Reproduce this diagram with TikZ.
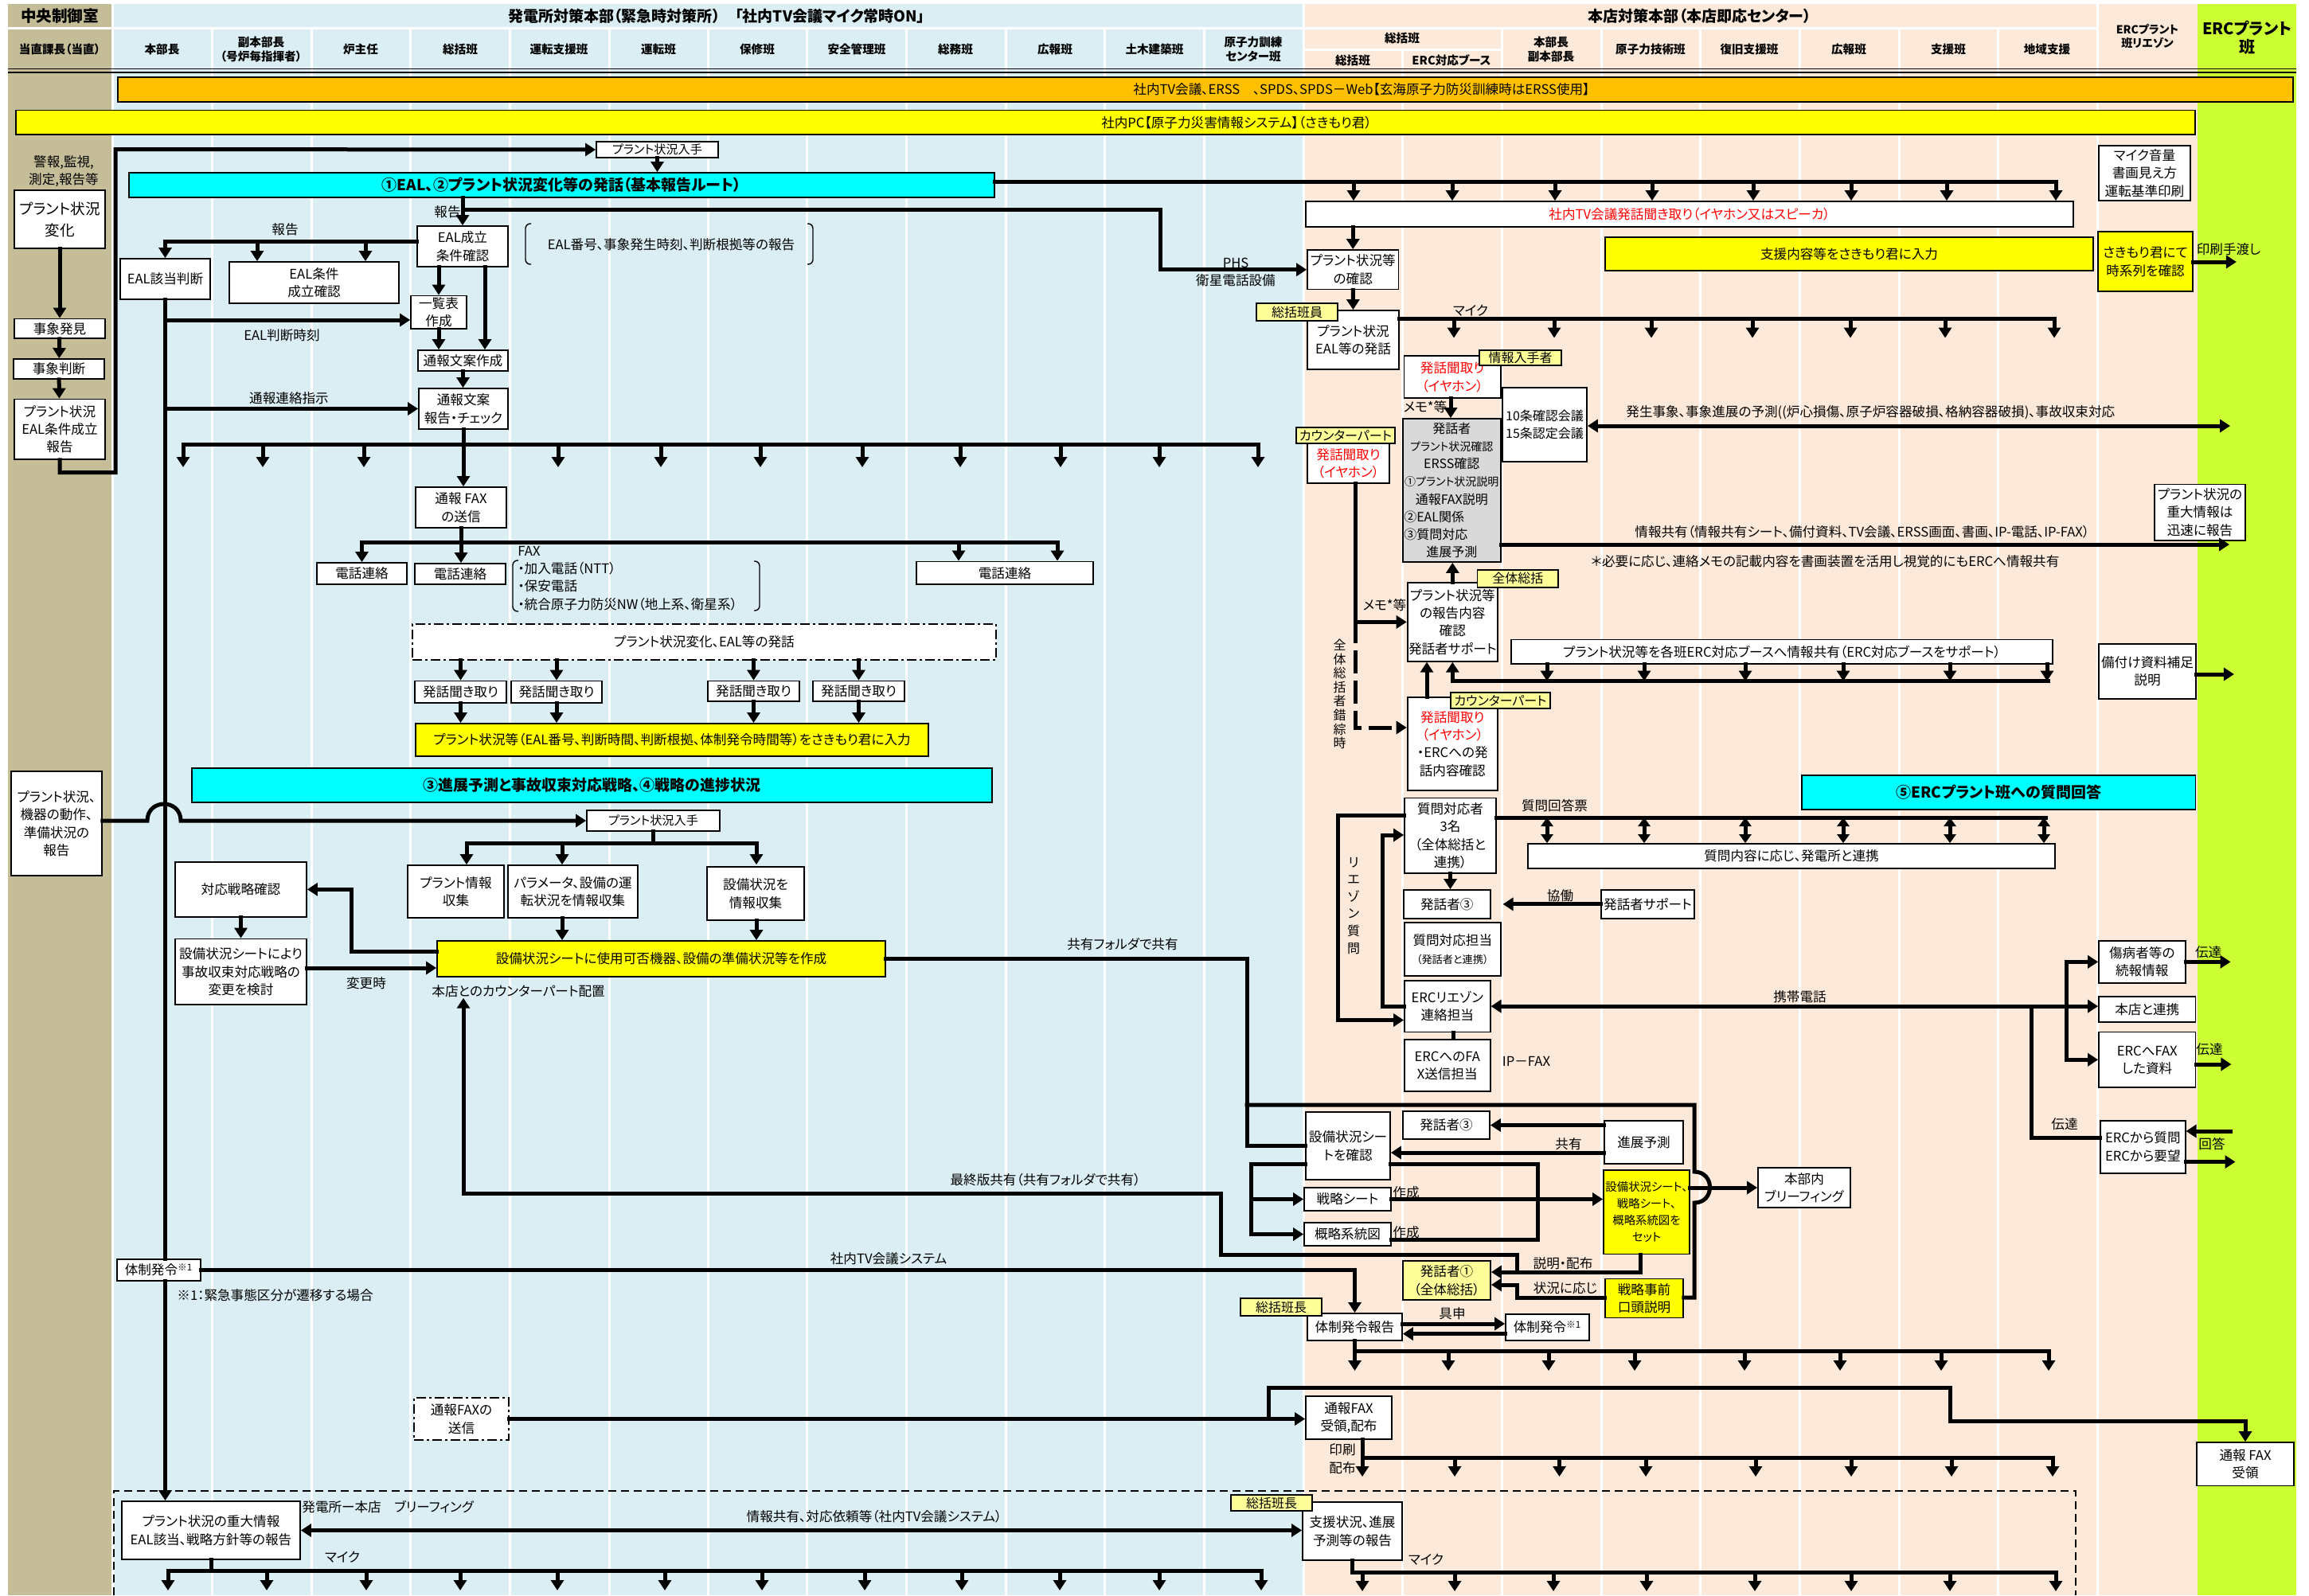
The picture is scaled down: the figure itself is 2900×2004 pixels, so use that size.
\documentclass[tikz,border=0pt]{standalone}
\usepackage{fontspec}
\setmainfont{Noto Sans CJK JP}[RawFeature=+palt]
\usepackage{xcolor}
\usepackage{tikz}
\usetikzlibrary{arrows.meta, positioning}
\definecolor{ctrlbg}{HTML}{C4BD97}
\definecolor{plantbg}{HTML}{DAEEF3}
\definecolor{hqbg}{HTML}{FDE9D9}
\definecolor{ercbg}{HTML}{CCFF33}
\definecolor{routebg}{HTML}{00FFFF}
\definecolor{sysbg}{HTML}{FFC000}
\definecolor{pcbg}{HTML}{FFFF00}
\definecolor{tagbg}{HTML}{FFFF99}
\definecolor{memobg}{HTML}{D9D9D9}
\newcommand{\boxfont}{\fontsize{8.3}{11.2}\selectfont}
\newcommand{\midfont}{\fontsize{7.6}{10}\selectfont}
\newcommand{\smallerfont}{\fontsize{6.6}{8.5}\selectfont}
\newcommand{\tagfont}{\fontsize{8}{10}\selectfont}
\newcommand{\headfont}{\fontsize{7.3}{9}\selectfont\bfseries}
\newcommand{\titlefont}{\fontsize{9.5}{11}\selectfont\bfseries}
\newcommand{\routefont}{\fontsize{9.5}{11}\selectfont\bfseries}
\newcommand{\lnst}{\rule[-0.12em]{0pt}{1em}}

\begin{document}
\begin{tikzpicture}[x=0.5pt, y=-0.5pt, >=Latex]
    \tikzset{spanbox/.style n args={4}{minimum width={(#3-#1)*0.5pt}, minimum height={(#4-#2)*0.5pt}, at={({(#1+#3)/2},{(#2+#4)/2})}}}
    \tikzstyle{bx} = [rectangle, draw=black, fill=white, line width=0.9pt, inner sep=0pt, align=center, font=\boxfont]
    \tikzstyle{ylw} = [bx, fill=pcbg]
    \tikzstyle{tag} = [bx, fill=tagbg, font=\tagfont]
    \tikzstyle{routebar} = [bx, fill=routebg, font=\routefont]
    \tikzstyle{chainline} = [dash pattern=on 6pt off 2pt on 1.5pt off 2pt]
    \tikzstyle{lbl} = [inner sep=0pt, align=center, font=\boxfont]
    \tikzstyle{hdr} = [inner sep=0pt, align=center, font=\headfont]
    \tikzstyle{wire} = [line width=2.5pt, line cap=rect]
    \tikzstyle{flow} = [wire, -{Triangle[width=8pt,length=6.5pt]}]
    \tikzstyle{twoway} = [wire, {Triangle[width=8pt,length=6.5pt]}-{Triangle[width=8pt,length=6.5pt]}]
    \tikzstyle{shorttwoway} = [wire, {Triangle[width=7.5pt,length=5.5pt]}-{Triangle[width=7.5pt,length=5.5pt]}]
    \tikzstyle{lane} = [white, line width=1.5pt]

    \useasboundingbox (0,0) rectangle (2900,2004);
    % lanes
    \fill[white] (0,0) rectangle (2900,2004);
    \fill[ctrlbg] (10,5) rectangle (140,2004);
    \fill[plantbg] (141,5) rectangle (1637,2004);
    \fill[hqbg] (1637,5) rectangle (2760,2004);
    \fill[ercbg] (2760,5) rectangle (2884,2004);
    \draw[lane] (10,35.5) -- (2634,35.5);
    \draw[lane] (1637,62) -- (1886,62);
    \foreach \x in {266,391,515,640,765,889,1013,1138,1263,1387,1512,1886,2011,2135,2260,2385,2509}
        \draw[lane] (\x,37) -- (\x,2004);
    \draw[lane] (1761,62) -- (1761,2004);
    \foreach \x in {141,1637,2634}
        \draw[lane] (\x,5) -- (\x,2004);
    \draw[line width=0.9pt] (10,86.5) -- (2884,86.5) (10,91) -- (2884,91);
    \draw[dashed, line width=0.8pt, dash pattern=on 5pt off 3pt] (143,2004) -- (143,1873) -- (2607,1873) -- (2607,2004);

    % headers
    \node[font=\fontsize{9.8}{11}\selectfont\bfseries, inner sep=0pt] (hctrl) at (75,20) {\lnst 中央制御室};
    \node[font=\titlefont, inner sep=0pt] (hplant) at (900,20) {\lnst 発電所対策本部（緊急時対策所）　「社内TV会議マイク常時ON」};
    \node[font=\titlefont, inner sep=0pt] (hhq) at (2135,20) {\lnst 本店対策本部（本店即応センター）};
    \node[hdr] (hduty) at (75,62) {\lnst 当直課長（当直）};
    \foreach \x/\t [count=\i] in {203.5/本部長, 453/炉主任, 578/総括班, 702/運転支援班, 827/運転班, 951/保修班, 1076/安全管理班, 1200/総務班, 1325/広報班, 1450/土木建築班}
        \node[hdr] (hp\i) at (\x,62) {\lnst\t};
    \node[hdr] (hsub) at (328,62) {\lnst 副本部長\\\lnst（号炉毎指揮者）};
    \node[hdr] (htrain) at (1574,62) {\lnst 原子力訓練\\\lnst センター班};
    \node[hdr] (hgen) at (1761,48) {\lnst 総括班};
    \node[hdr] (hgen1) at (1699,76) {\lnst 総括班};
    \node[hdr] (hgen2) at (1823,76) {\lnst ERC対応ブース};
    \node[hdr] (hchief) at (1948,62) {\lnst 本部長\\\lnst 副本部長};
    \foreach \x/\t [count=\i] in {2073/原子力技術班, 2197/復旧支援班, 2322/広報班, 2447/支援班, 2571/地域支援}
        \node[hdr] (hh\i) at (\x,62) {\lnst\t};
    \node[hdr, font=\fontsize{7}{8.5}\selectfont\bfseries] (hliaison) at (2697,46) {\lnst ERCプラント\\\lnst 班リエゾン};
    \node[hdr, font=\fontsize{10}{11.5}\selectfont\bfseries] (herc) at (2822,47) {\lnst ERCプラント\\\lnst 班};

    \node[bx, fill=sysbg, spanbox={148}{97}{2880}{128}] (tvsys) {};
    \node[lbl] (tvsystxt) at (1710,112.5) {\lnst 社内TV会議、ERSS　、SPDS、SPDS－Web【玄海原子力防災訓練時はERSS使用】};
    \node[bx, fill=pcbg, spanbox={20}{138.5}{2757}{169}] (pcsys) {};
    \node[lbl] (pcsystxt) at (1553,154) {\lnst 社内PC【原子力災害情報システム】（さきもり君）};

    % control room
    \node[lbl] (alarm) at (80,215) {\lnst 警報,監視,\\\lnst 測定,報告等};
    \node[bx, font=\fontsize{9.3}{13.5}\selectfont, spanbox={18}{239}{132}{312}] (chg) {\lnst プラント状況\\\lnst 変化};
    \node[bx, spanbox={18}{400.5}{132}{425}] (found) {\lnst 事象発見};
    \node[bx, spanbox={17}{451}{131}{476}] (judge) {\lnst 事象判断};
    \node[bx, spanbox={18}{501.5}{132}{577}] (ealrep) {\lnst プラント状況\\\lnst EAL条件成立\\\lnst 報告};
    \node[bx, spanbox={14}{969}{128}{1100}] (plantrep) {\lnst プラント状況、\\\lnst 機器の動作、\\\lnst 準備状況の\\\lnst 報告};

    % power station
    \node[bx, font=\midfont, spanbox={749}{178}{902}{198}] (get1) {\lnst プラント状況入手};
    \node[routebar, spanbox={162}{217}{1249}{248}] (route1) {\lnst ①EAL、②プラント状況変化等の発話（基本報告ルート）};
    \node[bx, spanbox={524}{284}{638}{335}] (ealok) {\lnst EAL成立\\\lnst 条件確認};
    \node[lbl] (ealnote) at (843,307) {\lnst EAL番号、事象発生時刻、判断根拠等の報告};
    \node[bx, spanbox={151}{325}{264}{376}] (ealjudge) {\lnst EAL該当判断};
    \node[bx, spanbox={288}{329}{501}{381}] (ealconf) {\lnst EAL条件\\\lnst 成立確認};
    \node[bx, spanbox={516}{371.5}{586}{413}] (ichiran) {\lnst 一覧表\\\lnst 作成};
    \node[bx, spanbox={525}{440}{638}{466}] (draft) {\lnst 通報文案作成};
    \node[bx, spanbox={526}{488}{638}{539}] (check) {\lnst 通報文案\\\lnst 報告・チェック};
    \node[bx, spanbox={522}{612}{636}{663}] (faxsend) {\lnst 通報 FAX\\\lnst の送信};
    \node[bx, spanbox={398}{707}{511}{734}] (tel1) {\lnst 電話連絡};
    \node[bx, spanbox={521}{708}{635}{734}] (tel2) {\lnst 電話連絡};
    \node[bx, spanbox={1151}{705.5}{1373}{734}] (tel3) {\lnst 電話連絡};
    \node[lbl, align=left, anchor=north west] (faxlist) at (650,683) {\lnst FAX\\\lnst・加入電話（NTT）\\\lnst・保安電話\\\lnst・統合原子力防災NW（地上系、衛星系）};
    \node[bx, chainline, spanbox={518}{784}{1251}{829}] (talk) {\lnst プラント状況変化、EAL等の発話};
    \node[bx, spanbox={521}{855.5}{636}{883}] (hatsu1) {\lnst 発話聞き取り};
    \node[bx, spanbox={642}{855.5}{756}{883}] (hatsu2) {\lnst 発話聞き取り};
    \node[bx, spanbox={889}{855.5}{1004}{881}] (hatsu3) {\lnst 発話聞き取り};
    \node[bx, spanbox={1021}{855.5}{1136}{881}] (hatsu4) {\lnst 発話聞き取り};
    \node[ylw, spanbox={522}{909}{1166}{950}] (input1) {\lnst プラント状況等（EAL番号、判断時間、判断根拠、体制発令時間等）をさきもり君に入力};
    \node[routebar, spanbox={241}{965}{1246}{1008}] (route2) {\lnst ③進展予測と事故収束対応戦略、④戦略の進捗状況};
    \node[bx, font=\midfont, spanbox={737}{1018}{904}{1044}] (get2) {\lnst プラント状況入手};
    \node[bx, spanbox={512}{1087}{633}{1153}] (info1) {\lnst プラント情報\\\lnst 収集};
    \node[bx, spanbox={638}{1087}{801}{1153}] (para) {\lnst パラメータ、設備の運\\\lnst 転状況を情報収集};
    \node[bx, spanbox={888}{1089}{1010}{1156}] (setsubi) {\lnst 設備状況を\\\lnst 情報収集};
    \node[ylw, spanbox={549}{1182}{1112}{1227}] (sheet1) {\lnst 設備状況シートに使用可否機器、設備の準備状況等を作成};
    \node[lbl, anchor=west] (cplabel) at (542,1245) {\lnst 本店とのカウンターパート配置};
    \node[bx, spanbox={220}{1083}{385}{1151.6}] (strat1) {\lnst 対応戦略確認};
    \node[bx, spanbox={220}{1179.5}{385}{1262}] (strat2) {\lnst 設備状況シートにより\\\lnst 事故収束対応戦略の\\\lnst 変更を検討};
    \node[bx, spanbox={147}{1582}{252}{1609}] (taisei1) {\lnst 体制発令\textsuperscript{※1}};
    \node[lbl, anchor=west] (note1) at (222,1627) {\lnst ※1：緊急事態区分が遷移する場合};
    \node[bx, chainline, spanbox={520}{1756}{639}{1809}] (faxsend2) {\lnst 通報FAXの\\\lnst 送信};
    \node[bx, spanbox={153}{1886}{377}{1959}] (brief1) {\lnst プラント状況の重大情報\\\lnst EAL該当、戦略方針等の報告};
    \node[lbl, anchor=west] (brieflbl) at (379,1893) {\lnst 発電所ー本店　ブリーフィング};

    \node[lbl] (lrep1) at (562,266) {\lnst 報告};
    \node[lbl] (lrep2) at (358,288) {\lnst 報告};
    \node[lbl] (ltime) at (354,421) {\lnst EAL判断時刻};
    \node[lbl] (lorder) at (363,500.6) {\lnst 通報連絡指示};
    \node[lbl] (lchange) at (460,1235.5) {\lnst 変更時};
    \node[lbl] (lfolder) at (1410,1186) {\lnst 共有フォルダで共有};
    \node[lbl] (lfinal) at (1313,1482) {\lnst 最終版共有（共有フォルダで共有）};
    \node[lbl] (ltvsys) at (1116,1581) {\lnst 社内TV会議システム};
    \node[lbl] (lshare) at (1098,1905) {\lnst 情報共有、対応依頼等（社内TV会議システム）};
    \node[lbl] (lmic1) at (430,1956) {\lnst マイク};
    \node[lbl] (lphs) at (1552,341) {\lnst PHS\\\lnst 衛星電話設備};

    % head office
    \node[bx, text=red, spanbox={1640}{253}{2604}{285}] (tvbox) {\lnst 社内TV会議発話聞き取り（イヤホン又はスピーカ）};
    \node[bx, spanbox={1642}{314}{1756.5}{363.5}] (conf) {\lnst プラント状況等\\\lnst の確認};
    \node[bx, spanbox={1642}{390}{1757}{464}] (say1) {\lnst プラント状況\\\lnst EAL等の発話};
    \node[ylw, spanbox={2016}{298}{2629}{339.6}] (supyel) {\lnst 支援内容等をさきもり君に入力};
    \node[bx, spanbox={2636}{183}{2751}{252}] (mic) {\lnst マイク音量\\\lnst 書画見え方\\\lnst 運転基準印刷};
    \node[ylw, spanbox={2635}{291}{2754}{366}] (sakimori) {\lnst さきもり君にて\\\lnst 時系列を確認};
    \node[bx, text=red, spanbox={1763.5}{447}{1884.6}{500}] (hear1) {\lnst 発話聞取り\\\lnst（イヤホン）};
    \node[bx, fill=memobg, font=\fontsize{8}{11.1}\selectfont, text width=60pt, spanbox={1762}{526}{1884.6}{706}] (memo) {\lnst 発話者\\{\fontsize{7}{11.1}\selectfont\lnst プラント状況確認}\\\lnst ERSS確認\\{\fontsize{7}{11.1}\selectfont\lnst ①プラント状況説明}\\\lnst 通報FAX説明\\\makebox[60pt][l]{\lnst ②EAL関係}\\\makebox[60pt][l]{\lnst ③質問対応}\\\lnst 進展予測};
    \node[bx, font=\fontsize{8}{11}\selectfont, spanbox={1887}{487}{1993}{580}] (conf10) {\lnst 10条確認会議\\\lnst 15条認定会議};
    \node[bx, text=red, spanbox={1642}{557}{1745}{607}] (hear2) {\lnst 発話聞取り\\\lnst（イヤホン）};
    \node[bx, spanbox={1767.6}{732}{1881}{830.8}] (rep) {\lnst プラント状況等\\\lnst の報告内容\\\lnst 確認\\\lnst 発話者サポート};
    \node[bx, spanbox={1898}{803.5}{2578}{834}] (ercbooth) {\lnst プラント状況等を各班ERC対応ブースへ情報共有（ERC対応ブースをサポート）};
    \node[bx, spanbox={1767.6}{876}{1881}{992.7}] (hear3) {\lnst\textcolor{red}{発話聞取り}\\\lnst\textcolor{red}{（イヤホン）}\\\lnst・ERCへの発\\\lnst 話内容確認};
    \node[bx, spanbox={2706}{608.5}{2820}{678.7}] (urgent) {\lnst プラント状況の\\\lnst 重大情報は\\\lnst 迅速に報告};
    \node[bx, spanbox={2636}{808.6}{2758}{877.6}] (suppl) {\lnst 備付け資料補足\\\lnst 説明};
    \node[routebar, spanbox={2263}{974}{2757.5}{1017}] (route3) {\lnst ⑤ERCプラント班への質問回答};
    \node[bx, spanbox={1764}{1002.5}{1879}{1097}] (qres) {\lnst 質問対応者\\\lnst 3名\\\lnst（全体総括と\\\lnst 連携）};
    \node[bx, spanbox={1919}{1060}{2581}{1090.7}] (qbox) {\lnst 質問内容に応じ、発電所と連携};
    \node[bx, spanbox={1763}{1118}{1871.6}{1153.7}] (spk3b) {\lnst 発話者③};
    \node[bx, spanbox={2011}{1118}{2128}{1153.7}] (support) {\lnst 発話者サポート};
    \node[bx, spanbox={1764}{1159}{1884.6}{1226}] (qresp) {\lnst 質問対応担当\\{\smallerfont\lnst（発話者と連携）}};
    \node[bx, spanbox={1764}{1231.7}{1871.6}{1296.5}] (liaison) {\lnst ERCリエゾン\\\lnst 連絡担当};
    \node[bx, spanbox={1764}{1305.8}{1871.6}{1371}] (faxliaison) {\lnst ERCへのFA\\\lnst X送信担当};
    \node[bx, spanbox={2636}{1182}{2744.6}{1234.7}] (injured) {\lnst 傷病者等の\\\lnst 続報情報};
    \node[bx, spanbox={2636}{1251.7}{2757.5}{1283.7}] (honten) {\lnst 本店と連携};
    \node[bx, spanbox={2636}{1296.5}{2757.5}{1366}] (ercfaxdoc) {\lnst ERCへFAX\\\lnst した資料};
    \node[bx, spanbox={2638}{1408}{2744.6}{1473.6}] (ercq) {\lnst ERCから質問\\\lnst ERCから要望};
    \node[bx, spanbox={1640}{1397}{1746}{1482}] (chk2) {\lnst 設備状況シー\\\lnst トを確認};
    \node[bx, spanbox={1762}{1396}{1871}{1431}] (spk3a) {\lnst 発話者③};
    \node[bx, spanbox={2015}{1408}{2114}{1462}] (forecast) {\lnst 進展予測};
    \node[bx, spanbox={1638}{1492}{1747}{1521}] (senr) {\lnst 戦略シート};
    \node[bx, spanbox={1638}{1536}{1747}{1565}] (gaiyaku) {\lnst 概略系統図};
    \node[ylw, font=\fontsize{7.2}{10.5}\selectfont, spanbox={2014}{1470}{2122}{1575.5}] (setyel) {\lnst 設備状況シート、\\\lnst 戦略シート、\\\lnst 概略系統図を\\\lnst セット};
    \node[bx, spanbox={2208}{1467}{2324}{1517}] (brief2) {\lnst 本部内\\\lnst ブリーフィング};
    \node[bx, fill=tagbg, spanbox={1762}{1584}{1872}{1633}] (spk1) {\lnst 発話者①\\\lnst（全体総括）};
    \node[ylw, spanbox={2016}{1606.5}{2114}{1655.5}] (prebrief) {\lnst 戦略事前\\\lnst 口頭説明};
    \node[bx, spanbox={1642}{1650}{1761}{1684}] (taiseirep) {\lnst 体制発令報告};
    \node[bx, spanbox={1891}{1651}{1996}{1684}] (taisei2) {\lnst 体制発令\textsuperscript{※1}};
    \node[bx, spanbox={1640}{1754}{1748}{1808}] (faxrecv) {\lnst 通報FAX\\\lnst 受領,配布};
    \node[bx, spanbox={2759}{1812}{2881}{1866.5}] (ercfax) {\lnst 通報 FAX\\\lnst 受領};
    \node[bx, spanbox={1636}{1887}{1761}{1960}] (supp) {\lnst 支援状況、進展\\\lnst 予測等の報告};

    \node[tag, spanbox={1578}{381}{1680}{403}] (tagA) {\lnst 総括班員};
    \node[tag, spanbox={1858}{440}{1961}{459}] (tagB) {\lnst 情報入手者};
    \node[tag, spanbox={1628}{537}{1752}{557}] (tagC) {\lnst カウンターパート};
    \node[tag, spanbox={1855.5}{715.7}{1957}{738}] (tagD) {\lnst 全体総括};
    \node[tag, spanbox={1822}{870}{1947}{890}] (tagE) {\lnst カウンターパート};
    \node[tag, spanbox={1558}{1631}{1660}{1653}] (tagF) {\lnst 総括班長};
    \node[tag, spanbox={1546}{1878}{1648}{1898}] (tagG) {\lnst 総括班長};

    \node[lbl] (lmic0) at (1847,390) {\lnst マイク};
    \node[lbl] (lmemo1) at (1790,511) {\lnst メモ*等};
    \node[lbl, anchor=west] (levent) at (2042,518) {\lnst 発生事象、事象進展の予測((炉心損傷、原子炉容器破損、格納容器破損)、事故収束対応};
    \node[lbl, anchor=west] (linfo) at (2053,668) {\lnst 情報共有（情報共有シート、備付資料、TV会議、ERSS画面、書画、IP-電話、IP-FAX）};
    \node[lbl, anchor=west] (lnote) at (1998,705.5) {\lnst ＊必要に応じ、連絡メモの記載内容を書画装置を活用し視覚的にもERCへ情報共有};
    \node[lbl] (lmemo2) at (1739,760) {\lnst メモ*等};
    \node[lbl, font=\fontsize{8}{8.8}\selectfont] (lbusy) at (1682.5,872) {\lnst 全\\体\\総\\括\\者\\錯\\綜\\\lnst 時};
    \node[lbl] (lqsheet) at (1952.5,1012) {\lnst 質問回答票};
    \node[lbl, font=\fontsize{8}{10.8}\selectfont] (lliq) at (1700,1137) {\lnst リ\\エ\\ゾ\\ン\\質\\\lnst 問};
    \node[lbl] (lcoop) at (1959.5,1124.7) {\lnst 協働};
    \node[lbl] (lipfax) at (1917,1333) {\lnst IP－FAX};
    \node[lbl] (lmobile) at (2260.5,1251.7) {\lnst 携帯電話};
    \node[lbl] (ltell1) at (2773.7,1196) {\lnst 伝達};
    \node[lbl] (ltell2) at (2775,1318) {\lnst 伝達};
    \node[lbl] (ltell3) at (2593,1412) {\lnst 伝達};
    \node[lbl] (lanswer) at (2778,1437) {\lnst 回答};
    \node[lbl] (lprint) at (2799,313) {\lnst 印刷手渡し};
    \node[lbl] (lshare2) at (1970,1437) {\lnst 共有};
    \node[lbl] (lmake1) at (1766,1498) {\lnst 作成};
    \node[lbl] (lmake2) at (1766,1548) {\lnst 作成};
    \node[lbl] (lexplain) at (1963,1587) {\lnst 説明・配布};
    \node[lbl] (lcase) at (1966,1618) {\lnst 状況に応じ};
    \node[lbl] (lpropose) at (1824,1650) {\lnst 具申};
    \node[lbl] (ldist) at (1686,1832.5) {\lnst 印刷\\\lnst 配布};
    \node[lbl] (lmic2) at (1791,1959) {\lnst マイク};

    % brackets
    \draw[line width=0.7pt, rounded corners=3pt] (667,281) -- (660,281) -- (660,332) -- (667,332);
    \draw[line width=0.7pt, rounded corners=3pt] (1014,281) -- (1021,281) -- (1021,332) -- (1014,332);
    \draw[line width=0.7pt, rounded corners=3pt] (651,704) -- (644,704) -- (644,768) -- (651,768);
    \draw[line width=0.7pt, rounded corners=3pt] (947,705) -- (954,705) -- (954,767) -- (947,767);

    % control room flow
    \draw[flow] (chg) -- (found);
    \draw[flow] (found) -- (judge);
    \draw[flow] (judge) -- (ealrep);
    \draw[flow] (ealrep.south) -- (ealrep.south |- 0,593.5) -| (145,187.5) -- (get1.west);
    \draw[flow] (plantrep.east |- get2.west) -- (185,1031) .. controls (185,1003) and (227,1003) .. (227,1031) -- (get2.west);

    % route 1
    \draw[flow] (get1.south) -- (get1.south |- route1.north);
    \coordinate (tvline) at (route1.east |- 0,228);
    \draw[wire] (tvline) -- (tvline -| 2582,0);
    \foreach \x in {1700,1824,1953,2075,2202,2325,2445,2582}
        \draw[flow] (tvline -| \x,0) -- (tvbox.north -| \x,0);
    \draw[flow] (route1.south -| ealok.north) -- (ealok.north);
    \draw[flow] (ealok.north |- 0,263) -- (1457,263) |- (conf.west);
    \coordinate (ealbus) at (ealok.west |- 0,303);
    \draw[flow] (ealbus) -| (ealjudge.north);
    \foreach \x in {323,459}
        \draw[flow] (ealbus -| \x,0) -- (ealconf.north -| \x,0);
    \draw[wire] (ealjudge.south) -- (ealjudge.south |- taisei1.north);
    \draw[flow] (taisei1.south -| ealjudge.south) -- (brief1.north -| ealjudge.south);
    \draw[flow] (ealjudge.south |- 0,402) -- (ichiran.west |- 0,402);
    \draw[flow] (ealjudge.south |- check.west) -- (check.west);
    \draw[flow] (ichiran.north |- ealok.south) -- (ichiran.north);
    \draw[flow] (ealok.south -| 609,0) -- (draft.north -| 609,0);
    \draw[flow] (ichiran.south) -- (ichiran.south |- draft.north);
    \draw[flow] (draft.south) -- (draft.south |- check.north);
    \draw[flow] (check.south) -- (check.south |- faxsend.north);
    \coordinate (busfax) at (check.south |- 0,558);
    \draw[wire] (busfax -| 230,0) -- (busfax -| 1580,0);
    \foreach \x in {230,330,457,701,830,955,1083,1206,1332,1456,1580}
        \draw[flow] (busfax -| \x,0) -- ++(0,29);
    \draw[flow] (faxsend.south) -- (faxsend.south |- tel2.north);
    \coordinate (bustel) at (faxsend.south |- 0,681);
    \draw[flow] (bustel) -| (tel1.north);
    \draw[flow] (bustel) -| (tel3.north -| 1328,0);
    \draw[flow] (bustel -| 1204,0) -- (tel3.north -| 1204,0);
    \foreach \n in {1,2,3,4} {
        \draw[flow] (hatsu\n.north |- talk.south) -- (hatsu\n.north);
        \draw[flow] (hatsu\n.south) -- (hatsu\n.south |- input1.north);
    }

    % route 2
    \coordinate (busget) at (get2.south |- 0,1059);
    \draw[wire] (get2.south) -- (busget);
    \draw[wire] (busget -| 586,0) -- (busget -| 950,0);
    \foreach \x in {586,706,950}
        \draw[flow] (busget -| \x,0) -- (info1.north -| \x,0);
    \draw[flow] (para.south -| 706,0) -- (sheet1.north -| 706,0);
    \draw[flow] (setsubi.south -| 950,0) -- (sheet1.north -| 950,0);
    \draw[flow] (strat1) -- (strat2);
    \draw[flow] (strat2.east |- 0,1216) -- (sheet1.west |- 0,1216);
    \draw[flow] (sheet1.west |- 0,1195.5) -| (441.5,0 |- strat1.east) -- (strat1.east);
    \draw[wire] (sheet1.east) -| (1566,0 |- chk2.west) -- (chk2.west);
    \coordinate (jshare) at (1566,1388);
    \draw[wire] (jshare) -- (2128,1388) -- (2128,1472) .. controls (2154,1472) and (2154,1511) .. (2128,1511) -- (2128,1630) -- (prebrief.east |- 0,1630);
    \draw[flow] (forecast.west |- spk3a.east) -- (spk3a.east);
    \draw[flow] (forecast.west |- 0,1448) -- (chk2.east |- 0,1448);
    \draw[flow] (chk2.west |- 0,1462) -- (1571,1462) |- (gaiyaku.west);
    \draw[flow] (1571,0 |- senr.west) -- (senr.west);
    \draw[wire] (chk2.east |- 0,1462) -| (1931,1557) -- (gaiyaku.east |- 0,1557);
    \draw[flow] (senr.east) -- (senr.east -| setyel.west);
    \draw[flow] (setyel.east |- brief2.west) -- (brief2.west);
    \draw[flow] (setyel.south -| 2060,0) |- (spk1.east |- 0,1598);
    \coordinate (jfinal) at (1905,1598);
    \draw[flow] (jfinal) |- (1533,1576) |- (582,1499) -- (cplabel.south -| 582,0);
    \draw[flow] (prebrief.west |- 0,1630) -| (1905,1614) -- (spk1.east |- 0,1614);

    % announcements and FAX
    \draw[flow] (taisei1.east) -| (taiseirep.north);
    \draw[flow] (taiseirep.east |- 0,1663) -- (taisei2.west |- 0,1663);
    \draw[flow] (taisei2.west |- 0,1675.6) -- (taiseirep.east |- 0,1675.6);
    \coordinate (busrep) at (taiseirep.south |- 0,1697);
    \draw[wire] (taiseirep.south) -- (busrep) -- (busrep -| 2573,0);
    \foreach \x in {1701.5,1819,1945,2053,2191,2311,2438,2573}
        \draw[flow] (busrep -| \x,0) -- ++(0,25);
    \draw[flow] (faxsend2.east) -- (faxsend2.east -| faxrecv.west);
    \draw[flow] (faxsend2.east -| 1593,0) |- (2449,1743) -- (2449,1785.5) -| (ercfax.north);
    \coordinate (busprint) at (faxrecv.south -| 1711,0);
    \draw[wire] (busprint) |- (2578,1831.5);
    \foreach \x in {1711,1827,1958.5,2067,2205,2325,2451,2578}
        \draw[flow] (busprint |- 0,1831.5) -| (\x,1855);

    % briefing
    \draw[twoway] (brief1.east) -- (brief1.east -| supp.west);
    \coordinate (busmic1) at (brief1.south |- 0,1973);
    \draw[wire] (brief1.south) -- (busmic1);
    \draw[wire] (busmic1 -| 211,0) -- (busmic1 -| 1584,0);
    \foreach \x in {211,335,460,578,700,835,957,1086,1208,1331,1456,1584}
        \draw[flow] (busmic1 -| \x,0) -- ++(0,25);
    \coordinate (busmic2) at (supp.south |- 0,1975);
    \draw[wire] (supp.south) -- (busmic2) -- (busmic2 -| 2582,0);
    \foreach \x in {1711,1827,1951,2068,2204,2325,2449,2582}
        \draw[flow] (busmic2 -| \x,0) -- ++(0,24);

    % head office flow
    \draw[flow] (conf.north |- tvbox.south) -- (conf.north);
    \draw[flow] (conf.south) -- (say1.north);
    \coordinate (busmic0) at (say1.east |- 0,400.5);
    \draw[wire] (busmic0) -- (busmic0 -| 2580,0);
    \foreach \x in {1826,1952,2074,2201,2324,2443,2580}
        \draw[flow] (busmic0 -| \x,0) -- ++(0,24);
    \draw[flow] (sakimori.east |- 0,329) -- ++(54,0);
    \draw[flow] (hear1.south -| 1822,0) -- (memo.north -| 1822,0);
    \draw[twoway] (conf10.east |- 0,535) -- (2801,535);
    \draw[flow] (hear2.south -| 1702,0) |- (rep.west);
    \coordinate (jmemo) at (rep.west -| 1702,0);
    \draw[flow, dash pattern=on 12pt off 7pt] (jmemo) |- (hear3.west |- 0,914);
    \draw[flow] (rep.north) -- (rep.north |- memo.south);
    \draw[flow] (memo.east |- 0,684) -- (2800,684);
    \coordinate (busbooth) at (rep.south |- 0,855.5);
    \draw[flow] (busbooth -| 2572,0) -- (busbooth) -- (rep.south);
    \foreach \x in {1943,2065,2192,2315,2449,2571}
        \draw[flow] (ercbooth.south -| \x,0) -- (busbooth -| \x,0);
    \draw[flow] (hear3.north -| 1792,0) -- (rep.south -| 1792,0);
    \draw[flow] (suppl.east |- 0,847) -- ++(47,0);
    \coordinate (busq) at (qres.east |- 0,1027);
    \draw[wire] (busq) -- (busq -| 2569,0);
    \foreach \x in {1943,2065,2192,2315,2449,2567}
        \draw[shorttwoway] (busq -| \x,0) -- (qbox.north -| \x,0);
    \draw[flow] (qres.south) -- (qres.south |- spk3b.north);
    \draw[flow, shorten >=7.5pt] (support.west) -- (support.west -| spk3b.east);
    \draw[flow] (qres.west |- 0,1024) -| (1680,1281.5) -- (liaison.west |- 0,1281.5);
    \draw[flow] (liaison.west |- 0,1264.5) -| (1736.6,1049) -- (qres.west |- 0,1049);
    \draw[wire] (liaison.south -| 1825,0) -- (faxliaison.north -| 1825,0);
    \draw[twoway] (liaison.east) -- (liaison.east -| honten.west);
    \coordinate (jcell) at (2595,1266);
    \draw[flow] (jcell) |- (injured.west);
    \draw[flow] (jcell) |- (ercfaxdoc.west);
    \coordinate (jrelay) at (2551,1266);
    \draw[wire] (jrelay) |- (ercq.west |- 0,1429);
    \draw[flow] (injured.east) -- ++(56,0);
    \draw[flow] (ercfaxdoc.east |- 0,1337) -- ++(44,0);
    \draw[flow] (ercq.east |- 0,1421) ++(56,0) -- (ercq.east |- 0,1421);
    \draw[flow] (ercq.east |- 0,1459.6) -- ++(62,0);
\end{tikzpicture}
\end{document}
